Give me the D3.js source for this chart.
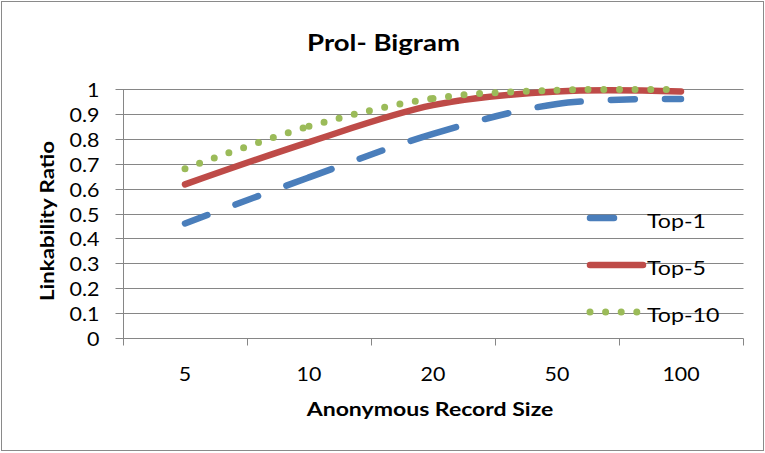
<!DOCTYPE html>
<html><head><meta charset="utf-8">
<script src="https://cdn.jsdelivr.net/npm/d3@7"></script>
<style>html,body{margin:0;padding:0;background:#fff} svg{display:block}</style>
</head><body>
<svg id="chart" width="765" height="453"></svg>
<script>
// ---- data ----
const categories = ["5", "10", "20", "50", "100"];
const top1  = [0.46, 0.645, 0.82, 0.94, 0.96];
const top5  = [0.617, 0.787, 0.935, 0.99, 0.99];
const top10 = [0.68, 0.85, 0.962, 0.995, 0.997];
const seriesNames = ["Top-1", "Top-5", "Top-10"];
const yTickValues = [0, 0.1, 0.2, 0.3, 0.4, 0.5, 0.6, 0.7, 0.8, 0.9, 1];
const yTickLabels = ["0", "0.1", "0.2", "0.3", "0.4", "0.5", "0.6", "0.7", "0.8", "0.9", "1"];
const titleText = "Prol- Bigram";
const xTitleText = "Anonymous Record Size";
const yTitleText = "Linkability Ratio";

// ---- layout / style ----
const W = 765, H = 453;
const plot = {left: 123, right: 743, top: 89, bottom: 338};
const gridColor = "#868686";
const colors = ["#4a7ebb", "#be4b48", "#9bbb59"];
const FONT = "Lato, 'Open Sans', sans-serif";

const svg = d3.select("#chart");
svg.append("rect").attr("x", 1.5).attr("y", 1.5).attr("width", W - 3).attr("height", H - 4)
  .attr("fill", "#fff").attr("stroke", "#8a8a8a").attr("stroke-width", 1);

const x = d3.scaleBand().domain(categories).range([plot.left, plot.right]);
const xc = c => x(c) + x.bandwidth() / 2;
const y = d3.scaleLinear().domain([0, 1]).range([plot.bottom, plot.top]);
const crisp = v => Math.round(v) + 0.5;

// gridlines
svg.append("g").selectAll("line").data(yTickValues.filter(v => v > 0)).join("line")
  .attr("x1", plot.left).attr("x2", plot.right + 0.5)
  .attr("y1", d => crisp(y(d))).attr("y2", d => crisp(y(d)))
  .attr("stroke", gridColor).attr("stroke-width", 1);

// y axis
const yAxis = d3.axisLeft(y).tickValues(yTickValues).tickSize(8).tickFormat("");
const gy = svg.append("g").attr("transform", `translate(${plot.left + 0.5},0)`).call(yAxis);
gy.select(".domain").attr("stroke", gridColor).attr("d", `M0,${plot.top}V${plot.bottom + 0.5}`);
gy.selectAll(".tick").attr("transform", d => `translate(0,${crisp(y(d))})`);
gy.selectAll(".tick line").attr("stroke", gridColor);

// x axis (ticks at category boundaries)
const xb = d3.scaleLinear().domain([0, categories.length]).range([plot.left, plot.right]);
const xAxis = d3.axisBottom(xb).tickValues(d3.range(categories.length + 1)).tickSize(7).tickFormat("");
const gx = svg.append("g").attr("transform", `translate(0,${crisp(plot.bottom)})`).call(xAxis);
gx.select(".domain").attr("stroke", gridColor).attr("d", `M${plot.left},0H${plot.right + 0.5}`);
gx.selectAll(".tick").attr("transform", d => `translate(${crisp(xb(d))},0)`);
gx.selectAll(".tick line").attr("stroke", gridColor);

// text helper: font-size + horizontal fit to target width
function addText(parent, txt, opts) {
  const g = parent.append("g");
  const t = g.append("text").text(txt)
    .attr("font-family", FONT).attr("font-size", opts.size)
    .attr("font-weight", opts.bold ? "bold" : "normal")
    .attr("text-anchor", opts.anchor || "middle").attr("fill", "#000");
  let sx = opts.sx || 1;
  if (opts.width) sx = opts.width / t.node().getBBox().width;
  g.attr("transform", `translate(${opts.x},${opts.y}) rotate(${opts.rotate || 0}) scale(${sx},1)`);
  return {g, t, sx};
}
function widthFactor(txt, size, bold, target) {
  const t = svg.append("text").text(txt).attr("font-family", FONT).attr("font-size", size)
    .attr("font-weight", bold ? "bold" : "normal");
  const w = t.node().getBBox().width; t.remove();
  return target / w;
}

// title
addText(svg, titleText, {x: 383.5, y: 50.5, size: 22.5, bold: true, width: 153});

// y tick labels
const ySx = widthFactor("0.9", 18.5, false, 30);
yTickValues.forEach((v, i) => addText(svg, yTickLabels[i], {x: 99.5, y: y(v) + 8, size: 18.5, anchor: "end", sx: ySx}));

// x tick labels
const xSx = widthFactor("100", 18.5, false, 37.5);
categories.forEach(c => addText(svg, c, {x: xc(c), y: 380.5, size: 18.5, sx: xSx}));

// axis titles
addText(svg, xTitleText, {x: 430, y: 416, size: 19.5, bold: true, width: 248});
addText(svg, yTitleText, {x: 54, y: 221, size: 19.5, bold: true, width: 160, rotate: -90});

// ---- series lines ----
const line = d3.line().x(d => d[0]).y(d => d[1]).curve(d3.curveCardinal.tension(0));
const series = [top1, top5, top10];
const dashSpec = [{on: 24, off: 30}, null, {on: 0, off: 15.6}];

function cumLengths(path, xs) {
  const total = path.getTotalLength();
  const res = [0];
  for (let i = 1; i < xs.length; i++) {
    let lo = res[i - 1], hi = total;
    for (let k = 0; k < 40; k++) {
      const mid = (lo + hi) / 2;
      if (path.getPointAtLength(mid).x < xs[i]) lo = mid; else hi = mid;
    }
    res.push((lo + hi) / 2);
  }
  res[res.length - 1] = total;
  return res;
}
function restartDash(cum, on, off) {
  const arr = [];
  for (let i = 1; i < cum.length; i++) {
    const L = cum[i] - cum[i - 1];
    let pos = 0, st = 0;
    while (pos < L - 1e-6) {
      const len = st === 0 ? on : off;
      const take = Math.min(len, L - pos);
      if ((arr.length % 2) !== st) arr.push(0);
      arr.push(take); pos += take; st = 1 - st;
    }
  }
  if (arr.length % 2 === 1) arr.push(2000);
  return arr.join(" ");
}

const gl = svg.append("g");
series.forEach((vals, si) => {
  const pts = categories.map((c, i) => [xc(c), y(vals[i])]);
  const p = gl.append("path").attr("d", line(pts)).attr("fill", "none")
    .attr("stroke", colors[si]).attr("stroke-linecap", "round").attr("stroke-linejoin", "round")
    .attr("stroke-width", si === 2 ? 7 : 6.5);
  const ds = dashSpec[si];
  if (ds) {
    const cum = cumLengths(p.node(), pts.map(d => d[0]));
    p.attr("stroke-dasharray", restartDash(cum, ds.on, ds.off));
  }
});

// ---- legend ----
const legend = {x1: 590, x2: 643, y0: 218, dy: 47, textX: 647};
const lSx = widthFactor("Top-1", 19.5, false, 59);
seriesNames.forEach((name, si) => {
  const ly = legend.y0 + si * legend.dy;
  const p = svg.append("path").attr("d", d3.line()([[legend.x1, ly], [legend.x2, ly]]))
    .attr("fill", "none").attr("stroke", colors[si]).attr("stroke-linecap", "round")
    .attr("stroke-width", si === 2 ? 7 : 6.5);
  const ds = dashSpec[si];
  if (ds) p.attr("stroke-dasharray", `${ds.on} ${ds.off}`);
  addText(svg, name, {x: legend.textX, y: ly + 10, size: 19.5, anchor: "start", sx: lSx});
});
</script>
</body></html>
